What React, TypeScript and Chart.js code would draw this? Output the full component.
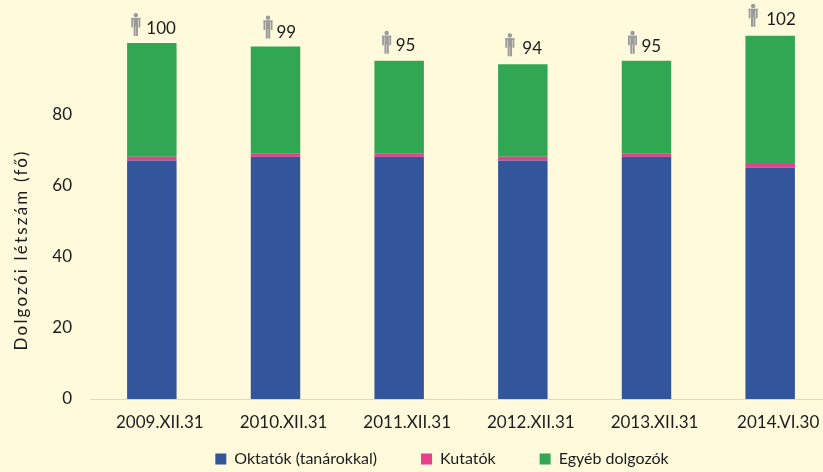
import React, { useEffect, useRef } from "react";
import { Chart, registerables } from "chart.js";

Chart.register(...registerables);

const categories = ["2009.XII.31", "2010.XII.31", "2011.XII.31", "2012.XII.31", "2013.XII.31", "2014.VI.30"];
const oktatok = [67, 68, 68, 67, 68, 65];
const kutatok = [1, 1, 1, 1, 1, 1];
const egyeb = [32, 30, 26, 26, 26, 36];
const totals = [100, 99, 95, 94, 95, 102];

const iconDx = [-16, -7.5, -12.5, -13, -14, -17];
const labelDx = [-5.5, 1, -3.5, -0.5, -5, -4];
const iconDy = [-30, -31, -30, -31, -30, -32];
const labelDy = [-14, -14, -15, -16, -14, -16];

const FONT = "Lato, 'Open Sans', sans-serif";
const SIZE = 17;
const TEXT = "#1c1c1c";
const CANVAS_SHIFT = 28;

function drawPerson(ctx: CanvasRenderingContext2D, cx: number, top: number) {
  ctx.save();
  ctx.fillStyle = "#9b9b9b";
  ctx.beginPath();
  ctx.arc(cx, top + 2.2, 2.2, 0, Math.PI * 2);
  ctx.fill();
  ctx.fillRect(cx - 4.5, top + 5, 9, 1.5);
  ctx.fillRect(cx - 4.5, top + 5, 1.8, 9.5);
  ctx.fillRect(cx + 2.7, top + 5, 1.8, 9.5);
  ctx.fillRect(cx - 2.2, top + 5, 4.4, 8.5);
  ctx.fillRect(cx - 2.2, top + 13, 2, 10);
  ctx.fillRect(cx + 0.2, top + 13, 2, 10);
  ctx.restore();
}

const calloutPlugin = {
  id: "callouts",
  afterLayout(chart: any) {
    // the legend sits closer to the axis than its horizontal item gap would allow
    chart.legend.top -= 32;
    chart.legend.bottom -= 32;
    chart.legend.left += 26;
    chart.legend.right += 26;
  },
  afterDatasetsDraw(chart: any) {
    const { ctx, scales } = chart;
    const x = scales.x;
    const y = scales.y;
    ctx.save();
    totals.forEach((total, i) => {
      const cx = x.getPixelForValue(i);
      const barTop = y.getPixelForValue(total);
      drawPerson(ctx, cx + iconDx[i], barTop + iconDy[i]);
      ctx.fillStyle = TEXT;
      ctx.font = `${SIZE}px ${FONT}`;
      ctx.textAlign = "left";
      ctx.textBaseline = "middle";
      ctx.fillText(String(total), cx + labelDx[i], barTop + labelDy[i]);
    });
    ctx.restore();
  },
};

const yTitlePlugin = {
  id: "yTitle",
  afterDraw(chart: any) {
    const { ctx } = chart;
    ctx.save();
    ctx.translate(22, 250 + CANVAS_SHIFT);
    ctx.rotate(-Math.PI / 2);
    ctx.fillStyle = TEXT;
    ctx.font = `${SIZE}px ${FONT}`;
    (ctx as any).letterSpacing = "2.2px";
    ctx.textAlign = "center";
    ctx.textBaseline = "middle";
    ctx.fillText("Dolgozói létszám (fő)", 0, 0);
    ctx.restore();
  },
};

export default function App() {
  const ref = useRef<HTMLCanvasElement>(null);
  useEffect(() => {
    document.body.style.margin = "0";
    document.body.style.background = "#FFFADC";
    const common = { categoryPercentage: 0.4, barPercentage: 1, stack: "s" };
    const chart = new Chart(ref.current!, {
      type: "bar",
      data: {
        labels: categories,
        datasets: [
          { label: "Oktatók (tanárokkal)", data: oktatok, backgroundColor: "#33559B", ...common },
          { label: "Kutatók", data: kutatok, backgroundColor: "#E83E8C", ...common },
          { label: "Egyéb dolgozók", data: egyeb, backgroundColor: "#31A754", ...common },
        ],
      },
      options: {
        animation: false,
        responsive: false,
        layout: { padding: { top: 0, right: 52, bottom: 0, left: 0 } },
        plugins: {
          tooltip: { enabled: false },
          title: { display: false },
          legend: {
            position: "bottom",
            labels: {
              boxWidth: 11,
              boxHeight: 11,
              padding: 44,
              color: TEXT,
              font: { family: FONT, size: 16 },
            },
          },
        },
        scales: {
          x: {
            stacked: true,
            grid: { display: false, drawTicks: false },
            border: { display: true, color: "#D3D7E8", width: 1 },
            ticks: { color: TEXT, font: { family: FONT, size: SIZE }, padding: 13, labelOffset: 8, maxRotation: 0 },
            afterFit: (s: any) => { s.height = 40; },
          },
          y: {
            stacked: true,
            min: 0,
            max: 112,
            grid: { display: false, drawTicks: false },
            border: { display: false },
            ticks: {
              stepSize: 20,
              padding: 18,
              color: TEXT,
              font: { family: FONT, size: SIZE },
              callback: (v: any) => (Number(v) > 80 ? "" : String(v)),
            },
            afterFit: (s: any) => { s.width = 90; },
          },
        },
      },
      plugins: [calloutPlugin, yTitlePlugin],
    } as any);
    return () => chart.destroy();
  }, []);
  return (
    <div style={{ position: "fixed", left: 0, top: 0, width: 823, height: 472, overflow: "hidden", background: "#FFFADC" }}>
      <canvas ref={ref} width={884} height={537} style={{ display: "block", width: 884, height: 537, marginTop: -CANVAS_SHIFT }} />
    </div>
  );
}
